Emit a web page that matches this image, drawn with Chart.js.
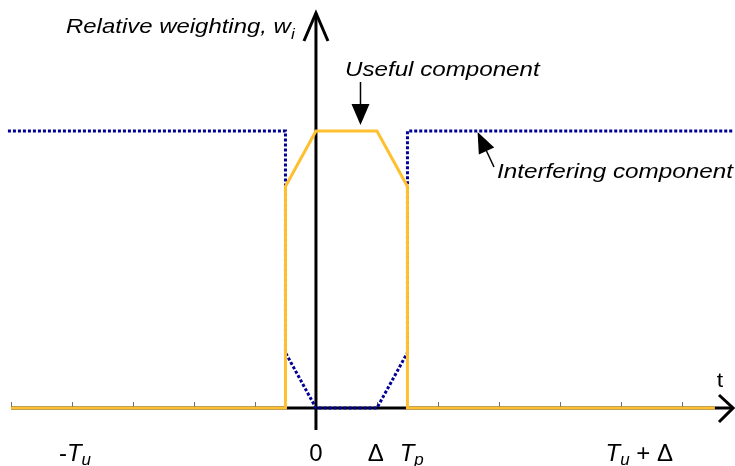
<!DOCTYPE html>
<html>
<head>
<meta charset="utf-8">
<script src="https://cdn.jsdelivr.net/npm/chart.js@4"></script>
<style>
html,body{margin:0;padding:0;background:#fff;}
canvas{display:block;}
</style>
</head>
<body>
<canvas id="c" width="735" height="466"></canvas>
<script>
// ---- data ----
const tUseful = [-5, -0.5, -0.5, 0, 1, 1.5, 1.5, 6.54];
const wUseful = [0, 0, 0.8, 1, 1, 0.8, 0, 0];
const tInterfering = [-5.05, -0.5, -0.5, 0, 1, 1.5, 1.5, 6.85];
const wInterfering = [1, 1, 0.2, 0, 0, 0.2, 1, 1];
const tickValues = [-5, -4, -3, -2, -1, 0, 1, 2, 3, 4, 5, 6];
const tickLabelValues = [-3.95, 0, 0.98, 1.57, 5.3];
const tickLabelParts = [
  [{t:'-'}, {t:'T', i:true}, {t:'u', i:true, sub:true}],
  [{t:'0'}],
  [{t:'\u0394'}],
  [{t:'T', i:true}, {t:'p', i:true, sub:true}],
  [{t:'T', i:true}, {t:'u', i:true, sub:true}, {t:' + \u0394'}]
];
const yTitleParts = [{t:'Relative weighting, w', i:true}, {t:'i', i:true, sub:true}];
const usefulLabel = 'Useful component';
const interferingLabel = 'Interfering component';
const xAxisLabel = 't';

const FONT = '"Liberation Sans", Arial, sans-serif';

function toPts(xs, ys){ return xs.map((x,k)=>({x:x, y:ys[k]})); }

// draws mixed-style text; sx = horizontal stretch, so = subscript drop (fraction of size)
function drawRich(ctx, parts, ax, by, size, align, sx, so){
  sx = sx || 1;
  so = so === undefined ? 0.28 : so;
  const subSize = Math.round(size*0.7);
  const widths = parts.map(p=>{
    ctx.font = (p.i?'italic ':'') + (p.sub?subSize:size) + 'px ' + FONT;
    return ctx.measureText(p.t).width;
  });
  const total = widths.reduce((a,b)=>a+b,0) * sx;
  const left = align === 'left' ? ax : ax - total/2;
  ctx.save();
  ctx.translate(left, by);
  ctx.scale(sx, 1);
  ctx.textBaseline = 'alphabetic';
  ctx.textAlign = 'left';
  let x = 0;
  parts.forEach((p,k)=>{
    ctx.font = (p.i?'italic ':'') + (p.sub?subSize:size) + 'px ' + FONT;
    ctx.fillText(p.t, x, p.sub ? size*so : 0);
    x += widths[k];
  });
  ctx.restore();
}

function line(ctx, x1,y1,x2,y2){ ctx.beginPath(); ctx.moveTo(x1,y1); ctx.lineTo(x2,y2); ctx.stroke(); }

function arrowHead(ctx, tx, ty, fx, fy, len, half){
  const dx = tx-fx, dy = ty-fy, L = Math.hypot(dx,dy);
  const ux = dx/L, uy = dy/L;
  const bx = tx - ux*len, by = ty - uy*len;
  ctx.beginPath();
  ctx.moveTo(tx,ty);
  ctx.lineTo(bx - uy*half, by + ux*half);
  ctx.lineTo(bx + uy*half, by - ux*half);
  ctx.closePath();
  ctx.fill();
  return [bx, by];
}

const decor = {
  id: 'decor',
  beforeDatasetsDraw(chart){
    const ctx = chart.ctx, xs = chart.scales.x, ys = chart.scales.y;
    const x0 = xs.getPixelForValue(0), y0 = ys.getPixelForValue(0);
    ctx.save();
    // tick marks
    ctx.strokeStyle = '#707070';
    ctx.lineWidth = 1;
    tickValues.forEach(v=>{
      const px = Math.round(xs.getPixelForValue(v)) + 0.5;
      line(ctx, px, y0-6, px, y0);
    });
    // x axis
    ctx.strokeStyle = '#000';
    ctx.lineWidth = 3;
    line(ctx, xs.getPixelForValue(-5), y0, 733, y0);
    // y axis
    line(ctx, x0, chart.chartArea.bottom, x0, 13);
    ctx.restore();
  },
  afterDatasetsDraw(chart){
    const ctx = chart.ctx, xs = chart.scales.x, ys = chart.scales.y;
    const x0 = xs.getPixelForValue(0), y0 = ys.getPixelForValue(0);
    ctx.save();
    ctx.strokeStyle = '#000';
    ctx.fillStyle = '#000';
    ctx.lineWidth = 3;
    ctx.lineCap = 'butt';
    ctx.lineJoin = 'miter';
    // y arrow chevron
    ctx.beginPath();
    ctx.moveTo(x0-12, 41); ctx.lineTo(x0, 13); ctx.lineTo(x0+12, 41);
    ctx.stroke();
    // x arrow chevron
    ctx.beginPath();
    ctx.moveTo(719, y0-13); ctx.lineTo(733, y0); ctx.lineTo(719, y0+14);
    ctx.stroke();
    // labels
    drawRich(ctx, [{t:xAxisLabel}], 720, 387, 21, 'center', 1.1);
    tickLabelValues.forEach((v,k)=>{
      drawRich(ctx, tickLabelParts[k], xs.getPixelForValue(v), 461, 24, 'center', 1, 0.18);
    });
    drawRich(ctx, yTitleParts, 66, 33, 21, 'left', 1.14);
    drawRich(ctx, [{t:usefulLabel, i:true}], 345, 76, 21, 'left', 1.15);
    drawRich(ctx, [{t:interferingLabel, i:true}], 497, 178, 21, 'left', 1.155);
    // useful arrow
    ctx.lineWidth = 1.5;
    const ux = xs.getPixelForValue(0.73);
    const uyTip = ys.getPixelForValue(1) - 6;
    line(ctx, ux, 82, ux, uyTip - 18);
    arrowHead(ctx, ux, uyTip, ux, 82, 21, 9);
    // interfering arrow
    const ix = xs.getPixelForValue(2.65), iy = ys.getPixelForValue(1) + 1;
    const b = arrowHead(ctx, ix, iy, 494, 167, 21, 8.5);
    line(ctx, b[0], b[1], 494, 167);
    ctx.restore();
  }
};

new Chart(document.getElementById('c'), {
  type: 'line',
  data: {
    datasets: [
      { label: usefulLabel, data: toPts(tUseful, wUseful), borderColor: '#FFC030',
        borderWidth: 3, pointRadius: 0, fill: false, tension: 0, order: 0 },
      { label: interferingLabel, data: toPts(tInterfering, wInterfering), borderColor: '#000096',
        borderWidth: 3, borderDash: [3, 2], pointRadius: 0, fill: false, tension: 0, order: 1 }
    ]
  },
  options: {
    responsive: false,
    animation: false,
    devicePixelRatio: 1,
    layout: { padding: { left: 0, right: 0, top: 12, bottom: 36 } },
    scales: {
      x: { type: 'linear', min: -5.18, max: 6.87, display: false },
      y: { type: 'linear', min: -0.0794, max: 1.4296, display: false }
    },
    plugins: { legend: { display: false }, tooltip: { enabled: false } }
  },
  plugins: [decor]
});
</script>
</body>
</html>
